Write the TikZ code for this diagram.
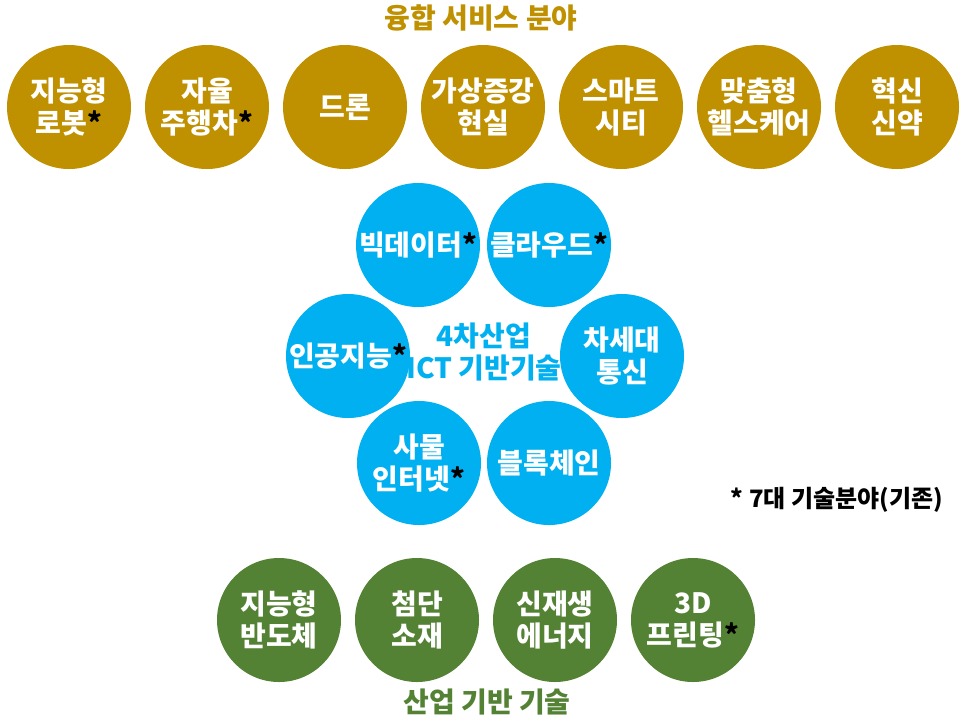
\documentclass[tikz,border=0pt]{standalone}
\usepackage{fontspec}
\setmainfont{Noto Sans CJK KR}
\definecolor{fusion}{HTML}{BF9000}
\definecolor{ict}{HTML}{00B0F0}
\definecolor{base}{HTML}{548235}
\newcommand{\kstar}{\textcolor{black}{*}}
\begin{document}
\begin{tikzpicture}[x=0.75pt, y=-0.75pt,
  ball/.style={circle, minimum size=93pt, inner sep=0pt, text=white, align=center, font=\bfseries\fontsize{21}{24}\selectfont},
  fusion ball/.style={ball, fill=fusion},
  ict ball/.style={ball, fill=ict},
  base ball/.style={ball, fill=base},
  heading/.style={align=center, font=\bfseries\fontsize{21}{24}\selectfont}]
\useasboundingbox (0,0) rectangle (966,722);

% Fusion services (top row)
\node[heading, text=fusion] (fusiontitle) at (481,18) {융합 서비스 분야};
\node[fusion ball] (robot) at (69,107) {지능형\\로봇\kstar};
\node[fusion ball] (car) at (207,107) {자율\\주행차\kstar};
\node[fusion ball] (drone) at (345,107) {드론};
\node[fusion ball] (ar) at (483,107) {가상증강\\현실};
\node[fusion ball] (city) at (621,107) {스마트\\시티};
\node[fusion ball] (health) at (759,107) {맞춤형\\헬스케어};
\node[fusion ball] (drug) at (897,107) {혁신\\신약};

% ICT core technologies (ring)
\node[heading, text=ict] (core) at (484,352) {4차산업\\ICT 기반기술};
\node[ict ball] (bigdata) at (418,245) {빅데이터\kstar};
\node[ict ball] (cloud) at (549,245) {클라우드\kstar};
\node[ict ball] (ai) at (348,356) {인공지능\kstar};
\node[ict ball] (net) at (622,356) {차세대\\통신};
\node[ict ball] (iot) at (419,463) {사물\\인터넷\kstar};
\node[ict ball] (chain) at (549,463) {블록체인};

% Legend
\node[heading, font=\bfseries\fontsize{18}{20}\selectfont] (note) at (837,500) {* 7대 기술분야(기존)};

% Industrial base technologies (bottom row)
\node[base ball] (chip) at (279,620) {지능형\\반도체};
\node[base ball] (material) at (417,620) {첨단\\소재};
\node[base ball] (energy) at (555,620) {신재생\\에너지};
\node[base ball] (print) at (693,620) {3D\\프린팅\kstar};
\node[heading, text=base] (basetitle) at (487,702) {산업 기반 기술};
\end{tikzpicture}
\end{document}
